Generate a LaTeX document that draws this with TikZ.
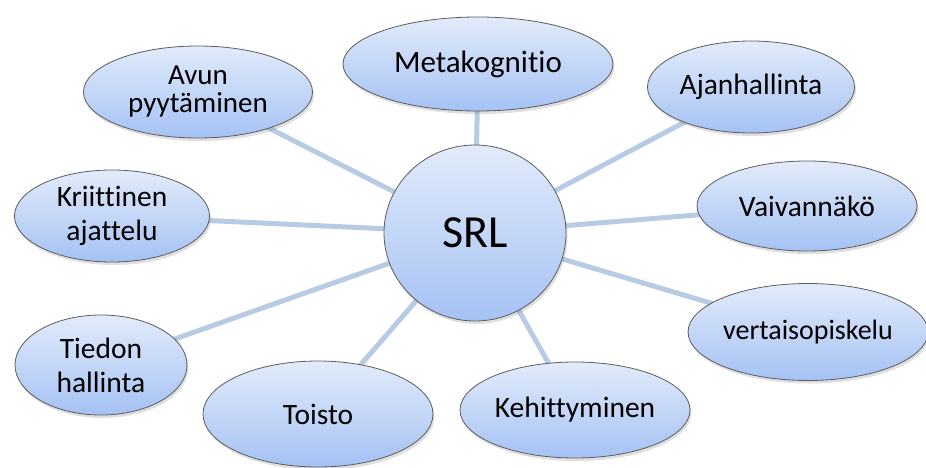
\documentclass[tikz,border=0pt]{standalone}
\usepackage{fontspec}
\setmainfont{Carlito}[Ligatures=NoCommon]
\usetikzlibrary{shapes.geometric,shadows,backgrounds}
\definecolor{linkc}{HTML}{B8CBE4}
\definecolor{topc}{HTML}{E2EBFA}
\definecolor{botc}{HTML}{A5C2F4}
\definecolor{edgec}{HTML}{5C5C5C}
\tikzset{
  bub/.style={ellipse, draw=edgec, line width=0.8pt, top color=topc, bottom color=botc,
    inner sep=0pt, align=center, font=\fontsize{29.5}{34}\selectfont,
    drop shadow={opacity=0.25, shadow xshift=1.5pt, shadow yshift=-3pt}},
  link/.style={draw=linkc, line width=5pt}
}
\begin{document}
\begin{tikzpicture}[x=1pt,y=-1pt]
\useasboundingbox (0,0) rectangle (926,468);
\node[bub, minimum width=182pt, minimum height=176pt, font=\fontsize{46}{50}\selectfont] (srl) at (475,233) {SRL};
\node[bub, minimum width=270pt, minimum height=94pt, font=\fontsize{31}{34}\selectfont] (meta) at (478,64) {Metakognitio};
\node[bub, minimum width=229pt, minimum height=92pt, font=\fontsize{29}{28}\selectfont] (avun) at (198,92) {Avun\\pyytäminen};
\node[bub, minimum width=207pt, minimum height=92pt] (ajan) at (751,87) {Ajanhallinta};
\node[bub, minimum width=195pt, minimum height=92pt] (krit) at (112,216) {Kriittinen\\ajattelu};
\node[bub, minimum width=220pt, minimum height=90pt] (vaiv) at (807,206) {Vaivannäkö};
\node[bub, minimum width=172pt, minimum height=100pt] (tied) at (101,365) {Tiedon\\hallinta};
\node[bub, minimum width=230pt, minimum height=106pt] (tois) at (318,414) {Toisto};
\node[bub, minimum width=230pt, minimum height=96pt] (kehi) at (575,410) {Kehittyminen};
\node[bub, minimum width=232pt, minimum height=97pt, font=\fontsize{28}{32}\selectfont] (vert) at (808,332) {vertaisopiskelu};
\begin{scope}[on background layer]
\foreach \n in {meta,avun,ajan,krit,vaiv,tied,tois,kehi,vert}
  \draw[link] (srl.center) -- (\n.center);
\end{scope}
\end{tikzpicture}
\end{document}
